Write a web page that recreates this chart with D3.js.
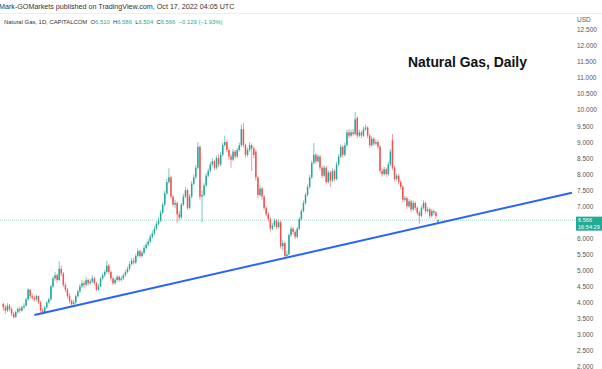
<!DOCTYPE html>
<html><head><meta charset="utf-8">
<script src="https://cdn.jsdelivr.net/npm/d3@7"></script>
<style>
html,body{margin:0;padding:0;background:#fff;}
svg{display:block;}
text{font-family:"Liberation Sans",Arial,sans-serif;}
</style></head>
<body>
<svg id="chart" width="602" height="369"></svg>
<script>
// ---- data ----
const opens = [3.95,3.85,3.75,3.90,3.80,3.65,3.55,3.70,3.80,3.75,3.85,3.90,4.10,4.40,4.20,4.15,4.10,4.20,4.00,3.75,
3.70,3.85,4.00,4.10,4.50,4.75,4.85,4.70,5.05,4.90,4.55,4.40,4.20,4.05,3.95,4.00,4.20,4.35,4.50,4.60,
4.55,4.70,4.60,4.65,4.75,4.60,4.40,4.50,4.75,4.85,4.95,5.15,4.95,4.75,4.60,4.70,4.80,4.70,4.75,4.85,
4.95,5.05,5.20,5.30,5.25,5.45,5.60,5.45,5.55,5.70,5.80,5.90,6.05,6.15,6.30,6.45,6.55,6.80,7.05,7.40,
7.75,7.90,7.30,7.05,7.10,6.75,6.65,7.05,7.30,7.50,6.95,7.30,7.70,7.90,8.20,8.85,7.30,7.35,7.65,7.95,
8.10,8.30,8.40,8.20,8.50,8.30,8.60,8.90,9.00,8.75,8.55,8.45,8.70,8.55,8.75,8.90,9.40,8.90,8.60,8.75,
8.90,8.80,8.70,7.90,7.35,7.55,7.30,6.95,6.75,6.60,6.30,6.40,6.55,6.35,6.50,5.75,5.85,5.45,5.50,6.10,
6.30,6.20,6.05,6.30,6.60,6.85,7.10,7.35,7.60,7.90,8.35,8.60,8.40,8.55,8.20,7.95,8.20,7.75,8.05,7.80,
8.10,7.85,8.30,8.55,8.85,8.60,8.90,9.30,9.20,9.30,9.25,9.75,9.20,9.30,9.20,9.40,9.45,9.20,8.90,9.10,
8.95,9.00,8.85,8.10,8.00,8.15,8.00,8.30,9.05,8.20,7.85,7.95,7.75,7.60,7.20,7.25,7.00,7.15,6.90,7.10,
6.95,6.80,6.70,6.95,7.10,6.85,6.90,6.70,6.85,6.80,6.51];
const highs = [4.00,3.92,3.98,3.95,3.85,3.70,3.75,3.85,3.88,3.90,3.98,4.15,4.45,4.42,4.28,4.22,4.25,4.22,4.05,3.82,
3.90,4.05,4.15,4.55,4.82,4.95,4.90,5.28,5.15,4.95,4.62,4.45,4.28,4.10,4.08,4.25,4.40,4.58,4.70,4.68,
4.78,4.75,4.72,4.85,4.80,4.65,4.58,4.80,4.92,5.02,5.30,5.20,5.00,4.80,4.76,4.86,4.84,4.82,4.90,5.02,
5.12,5.28,5.38,5.40,5.52,5.68,5.65,5.62,5.78,5.88,5.98,6.12,6.25,6.38,6.52,6.65,6.88,7.12,7.48,7.85,
8.18,7.95,7.35,7.20,7.15,6.85,7.10,7.38,7.60,7.55,7.38,7.78,7.98,8.28,9.00,8.90,7.50,7.72,8.02,8.18,
8.38,8.50,8.45,8.58,8.62,8.68,8.98,9.20,9.05,8.80,8.62,8.78,8.75,8.82,8.98,9.55,9.60,8.95,8.82,9.00,
8.95,8.85,8.75,7.95,7.65,7.60,7.35,7.00,6.82,6.65,6.48,6.62,6.60,6.58,6.55,5.95,5.90,5.62,6.15,6.38,
6.35,6.25,6.36,6.66,6.92,7.18,7.42,7.68,7.98,8.42,8.97,8.65,8.62,8.60,8.25,8.28,8.25,8.12,8.10,8.18,
8.15,8.38,8.62,8.92,8.90,8.98,9.38,9.40,9.38,9.40,9.93,9.80,9.38,9.35,9.48,9.55,9.50,9.25,9.18,9.15,
9.08,9.05,8.90,8.18,8.22,8.20,8.38,8.78,9.25,8.25,8.02,8.00,7.80,7.65,7.32,7.30,7.22,7.20,7.18,7.15,
7.00,6.85,7.02,7.18,7.15,6.98,6.95,6.92,6.90,6.85,6.586];
const lows = [3.75,3.65,3.70,3.72,3.58,3.50,3.52,3.65,3.68,3.72,3.80,3.88,4.05,4.12,4.08,4.02,4.05,3.95,3.68,3.62,
3.66,3.80,3.95,4.05,4.45,4.68,4.62,4.68,4.82,4.48,4.32,4.12,3.98,3.88,3.90,3.96,4.15,4.30,4.45,4.45,
4.50,4.52,4.55,4.60,4.52,4.35,4.36,4.48,4.70,4.80,4.90,4.88,4.68,4.54,4.56,4.65,4.64,4.66,4.70,4.80,
4.90,5.00,5.15,5.18,5.20,5.40,5.38,5.40,5.50,5.65,5.75,5.85,6.00,6.10,6.25,6.40,6.50,6.75,7.00,7.35,
7.70,7.22,6.98,6.95,6.47,6.55,6.60,7.00,7.25,6.88,6.90,7.25,7.65,7.85,8.15,7.20,6.50,7.30,7.60,7.90,
8.05,8.25,8.12,8.15,8.22,8.25,8.55,8.85,8.68,8.45,8.20,8.40,8.48,8.50,8.70,8.85,8.82,8.52,8.55,8.70,
8.10,8.50,7.80,7.25,7.30,7.20,6.88,6.68,6.52,6.22,6.25,6.35,6.28,6.30,5.68,5.62,5.38,5.40,5.48,6.05,
6.12,5.98,6.00,6.25,6.55,6.80,7.05,7.30,7.55,7.85,8.30,8.32,8.35,8.12,7.88,7.90,7.68,7.70,7.60,7.75,
7.78,7.80,8.25,8.50,8.52,8.55,8.85,9.12,9.15,9.18,9.20,9.12,9.15,9.12,9.15,9.35,9.12,8.82,8.85,8.88,
8.90,8.78,8.02,7.92,7.95,7.92,7.95,8.25,8.12,7.78,7.80,7.68,7.52,7.12,7.15,6.92,6.95,6.82,6.85,6.88,
6.72,6.45,6.65,6.90,6.78,6.80,6.62,6.65,6.72,6.60,6.504];
const closes = [3.85,3.75,3.90,3.80,3.65,3.55,3.70,3.80,3.75,3.85,3.90,4.10,4.40,4.20,4.15,4.10,4.20,4.00,3.75,3.70,
3.85,4.00,4.10,4.50,4.75,4.85,4.70,5.05,4.90,4.55,4.40,4.20,4.05,3.95,4.00,4.20,4.35,4.50,4.60,4.55,
4.70,4.60,4.65,4.75,4.60,4.40,4.50,4.75,4.85,4.95,5.15,4.95,4.75,4.60,4.70,4.80,4.70,4.75,4.85,4.95,
5.05,5.20,5.30,5.25,5.45,5.60,5.45,5.55,5.70,5.80,5.90,6.05,6.15,6.30,6.45,6.55,6.80,7.05,7.40,7.75,
7.90,7.30,7.05,7.10,6.75,6.65,7.05,7.30,7.50,6.95,7.30,7.70,7.90,8.20,8.85,7.30,7.35,7.65,7.95,8.10,
8.30,8.40,8.20,8.50,8.30,8.60,8.90,9.00,8.75,8.55,8.45,8.70,8.55,8.75,8.90,9.40,8.90,8.60,8.75,8.90,
8.80,8.60,7.90,7.35,7.55,7.30,6.95,6.75,6.60,6.30,6.40,6.55,6.35,6.50,5.75,5.85,5.45,5.50,6.10,6.30,
6.20,6.05,6.30,6.60,6.85,7.10,7.35,7.60,7.90,8.35,8.60,8.40,8.55,8.20,7.95,8.20,7.75,8.05,7.80,8.10,
7.85,8.30,8.55,8.85,8.60,8.90,9.30,9.20,9.30,9.25,9.70,9.20,9.30,9.20,9.40,9.45,9.20,8.90,9.10,8.95,
9.00,8.85,8.10,8.00,8.15,8.00,8.30,8.70,8.20,7.85,7.95,7.75,7.60,7.20,7.25,7.00,7.15,6.90,7.10,6.95,
6.80,6.70,6.95,7.10,6.85,6.90,6.70,6.85,6.80,6.695,6.566];
const priceTicks = [2.0,2.5,3.0,3.5,4.0,4.5,5.0,5.5,6.0,6.5,7.0,7.5,8.0,8.5,9.0,9.5,10.0,10.5,11.0,11.5,12.0,12.5];
const trendIdx = [15, 274.7];
const trendVal = [3.61, 7.42];
const lastPrice = 6.566;
const lastTime = "16:54:29";
const headerText = "Mark-GOMarkets published on TradingView.com, Oct 17, 2022 04:05 UTC";
const symbolText = "Natural Gas, 1D, CAPITALCOM";
const ohlcLabels = ["O","H","L","C"];
const ohlcValues = ["6.510","6.586","6.504","6.566"];
const changeText = "\u22120.129 (\u22121.93%)";
const titleText = "Natural Gas, Daily";

// ---- drawing ----
const svg = d3.select("#chart");
const up = "#26a69a", down = "#ef5350";
const x = d3.scaleLinear().domain([0, closes.length - 1]).range([3.3, 438]);
const y = d3.scaleLinear().domain([2, 12.5]).range([366.7, 29.65]);

function fitFont(sel, target) {
  sel.attr("font-size", 10);
  const w = sel.node().getComputedTextLength();
  sel.attr("font-size", 10 * target / w);
}

// top separator
svg.append("line").attr("x1",0).attr("x2",602).attr("y1",13.5).attr("y2",13.5)
  .attr("stroke","#eceef2").attr("stroke-width",1);

// header text
const ht = svg.append("text").attr("x",-1).attr("y",9).attr("fill","#333").text(headerText);
fitFont(ht, 236);

// symbol + OHLC line (one text element, flowing tspans)
const st = svg.append("text").attr("x",4).attr("y",24).attr("fill","#333").attr("xml:space","preserve");
st.append("tspan").text(symbolText + "  ");
ohlcLabels.forEach((l,i)=>{
  st.append("tspan").attr("fill","#333").text(l);
  st.append("tspan").attr("fill","#22ab94").text(ohlcValues[i] + "  ");
});
st.append("tspan").attr("fill","#22ab94").text(changeText);
fitFont(st, 219);

// last price dotted line
svg.append("line").attr("x1",0).attr("x2",575).attr("y1",y(lastPrice)).attr("y2",y(lastPrice))
  .attr("stroke","#9fd8cf").attr("stroke-width",1).attr("stroke-dasharray","1,1");

// candles
const idx = d3.range(closes.length);
const g = svg.append("g");
g.selectAll("line.wick").data(idx).join("line").attr("class","wick")
  .attr("x1",i=>x(i)).attr("x2",i=>x(i))
  .attr("y1",i=>y(highs[i])).attr("y2",i=>y(lows[i]))
  .attr("stroke",i=>closes[i]>=opens[i]?up:down).attr("stroke-width",0.8).attr("opacity",0.75);
g.selectAll("rect.body").data(idx).join("rect").attr("class","body")
  .attr("x",i=>x(i)-0.75).attr("width",1.5)
  .attr("y",i=>y(Math.max(opens[i],closes[i])))
  .attr("height",i=>Math.max(0.8, Math.abs(y(opens[i])-y(closes[i]))))
  .attr("fill",i=>closes[i]>=opens[i]?up:down);

// trend line
svg.append("path").datum(d3.range(trendIdx.length))
  .attr("d", d3.line().x(i=>x(trendIdx[i])).y(i=>y(trendVal[i])))
  .attr("fill","none").attr("stroke","#2962ff").attr("stroke-width",2);

// price axis (labels hidden behind the last-price tag are not shown)
const ly = y(lastPrice);
const shownTicks = priceTicks.filter(v => Math.abs(y(v) - (ly + 3.5)) > 9);
const axis = d3.axisRight(y).tickValues(shownTicks).tickFormat(d3.format(".3f")).tickSize(0).tickPadding(2);
const ag = svg.append("g").attr("transform","translate(575,0)").call(axis);
ag.select(".domain").remove();
ag.selectAll("text").attr("font-size",6.5).attr("fill","#555").attr("font-family","Liberation Sans, Arial, sans-serif");
svg.append("text").attr("x",577).attr("y",22).attr("font-size",6.5).attr("fill","#555").text("USD");

// last price label
svg.append("rect").attr("x",576).attr("y",ly-3.5).attr("width",26).attr("height",14).attr("fill","#22ab94");
svg.append("text").attr("x",578).attr("y",ly+2.2).attr("font-size",5.6).attr("fill","#fff").text(lastPrice.toFixed(3));
svg.append("text").attr("x",578).attr("y",ly+8.9).attr("font-size",5.6).attr("fill","#fff").text(lastTime);

// title
const tt = svg.append("text").attr("x",408).attr("y",67).attr("font-weight","bold")
  .attr("font-family","DejaVu Sans, sans-serif").attr("fill","#111").text(titleText);
fitFont(tt, 119);
</script>
</body></html>
